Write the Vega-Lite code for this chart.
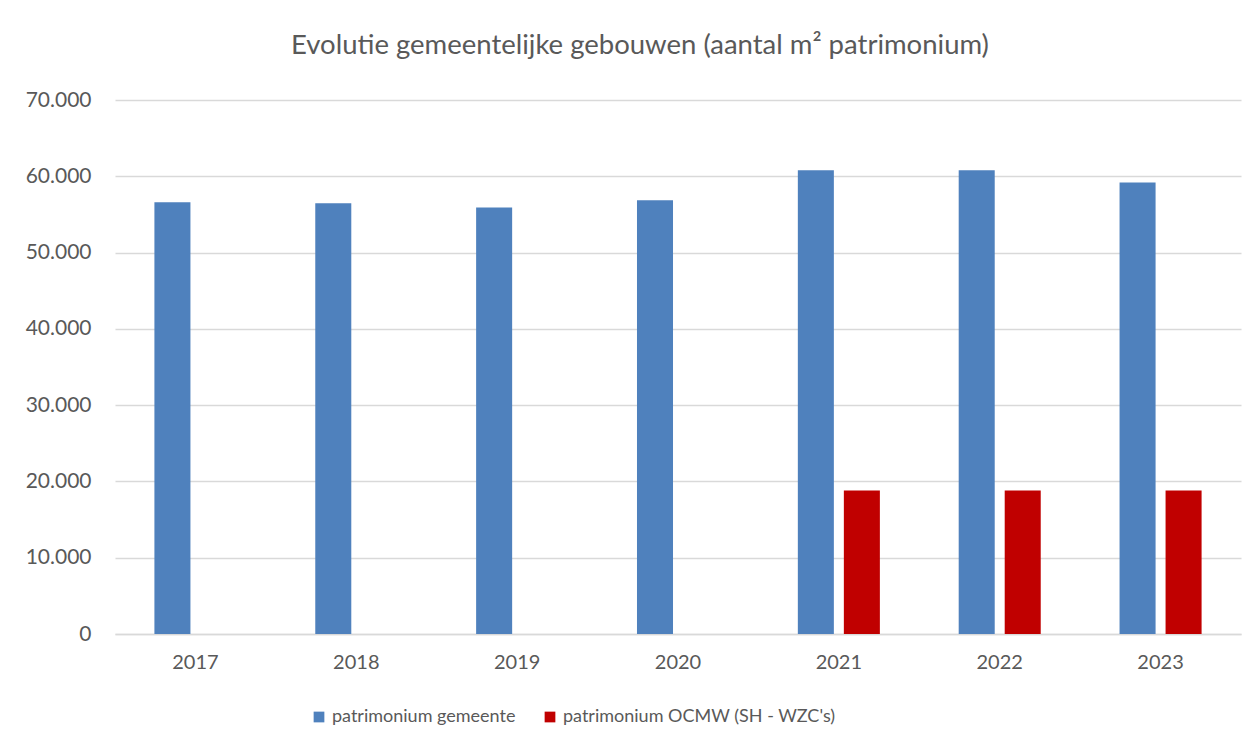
{
  "$schema": "https://vega.github.io/schema/vega-lite/v6.json",
  "autosize": "none",
  "width": 1126,
  "height": 534,
  "padding": {"left": 115, "top": 100, "right": 19, "bottom": 117},
  "background": "white",
  "title": {
    "text": "Evolutie gemeentelijke gebouwen (aantal m² patrimonium)",
    "font": "Lato",
    "fontSize": 27.5,
    "fontWeight": "normal",
    "color": "#595959",
    "anchor": "middle",
    "dx": -38,
    "offset": 30
  },
  "data": {
    "values": [
      {"jaar": "2017", "reeks": "patrimonium gemeente", "m2": 56600},
      {"jaar": "2018", "reeks": "patrimonium gemeente", "m2": 56450},
      {"jaar": "2019", "reeks": "patrimonium gemeente", "m2": 55900},
      {"jaar": "2020", "reeks": "patrimonium gemeente", "m2": 56850},
      {"jaar": "2021", "reeks": "patrimonium gemeente", "m2": 60800},
      {"jaar": "2022", "reeks": "patrimonium gemeente", "m2": 60800},
      {"jaar": "2023", "reeks": "patrimonium gemeente", "m2": 59200},
      {"jaar": "2021", "reeks": "patrimonium OCMW (SH - WZC's)", "m2": 18800},
      {"jaar": "2022", "reeks": "patrimonium OCMW (SH - WZC's)", "m2": 18800},
      {"jaar": "2023", "reeks": "patrimonium OCMW (SH - WZC's)", "m2": 18800}
    ]
  },
  "mark": {"type": "bar"},
  "encoding": {
    "x": {
      "field": "jaar",
      "type": "nominal",
      "title": null,
      "scale": {"paddingInner": 0.49, "paddingOuter": 0.245},
      "axis": {
        "labelAngle": 0,
        "labelFont": "Lato",
        "labelFontSize": 20,
        "labelColor": "#595959",
        "labelPadding": 18,
        "ticks": false,
        "domainColor": "#D9D9D9",
        "domainWidth": 1.3,
        "grid": false
      }
    },
    "xOffset": {
      "field": "reeks",
      "type": "nominal",
      "scale": {
        "domain": ["patrimonium gemeente", "patrimonium OCMW (SH - WZC's)"],
        "paddingInner": 0.217,
        "paddingOuter": 0
      }
    },
    "y": {
      "field": "m2",
      "type": "quantitative",
      "title": null,
      "scale": {"domain": [0, 70000], "nice": false},
      "axis": {
        "values": [0, 10000, 20000, 30000, 40000, 50000, 60000, 70000],
        "format": ",.0f",
        "labelFont": "Lato",
        "labelFontSize": 21,
        "labelColor": "#595959",
        "labelPadding": 24,
        "ticks": false,
        "domain": false,
        "grid": true,
        "gridColor": "#D9D9D9",
        "gridWidth": 1.3
      }
    },
    "color": {
      "field": "reeks",
      "type": "nominal",
      "scale": {
        "domain": ["patrimonium gemeente", "patrimonium OCMW (SH - WZC's)"],
        "range": ["#4F81BD", "#C00000"]
      },
      "legend": {
        "title": null,
        "orient": "none",
        "direction": "horizontal",
        "legendX": 195,
        "legendY": 608,
        "symbolType": "square",
        "symbolSize": 115,
        "symbolStrokeWidth": 0,
        "labelFont": "Lato",
        "labelFontSize": 18,
        "labelColor": "#595959",
        "labelOffset": 4,
        "labelLimit": 0,
        "columnPadding": 25
      }
    }
  },
  "config": {
    "view": {"stroke": null},
    "locale": {
      "number": {"decimal": ",", "thousands": ".", "grouping": [3], "currency": ["€", ""]}
    }
  }
}
